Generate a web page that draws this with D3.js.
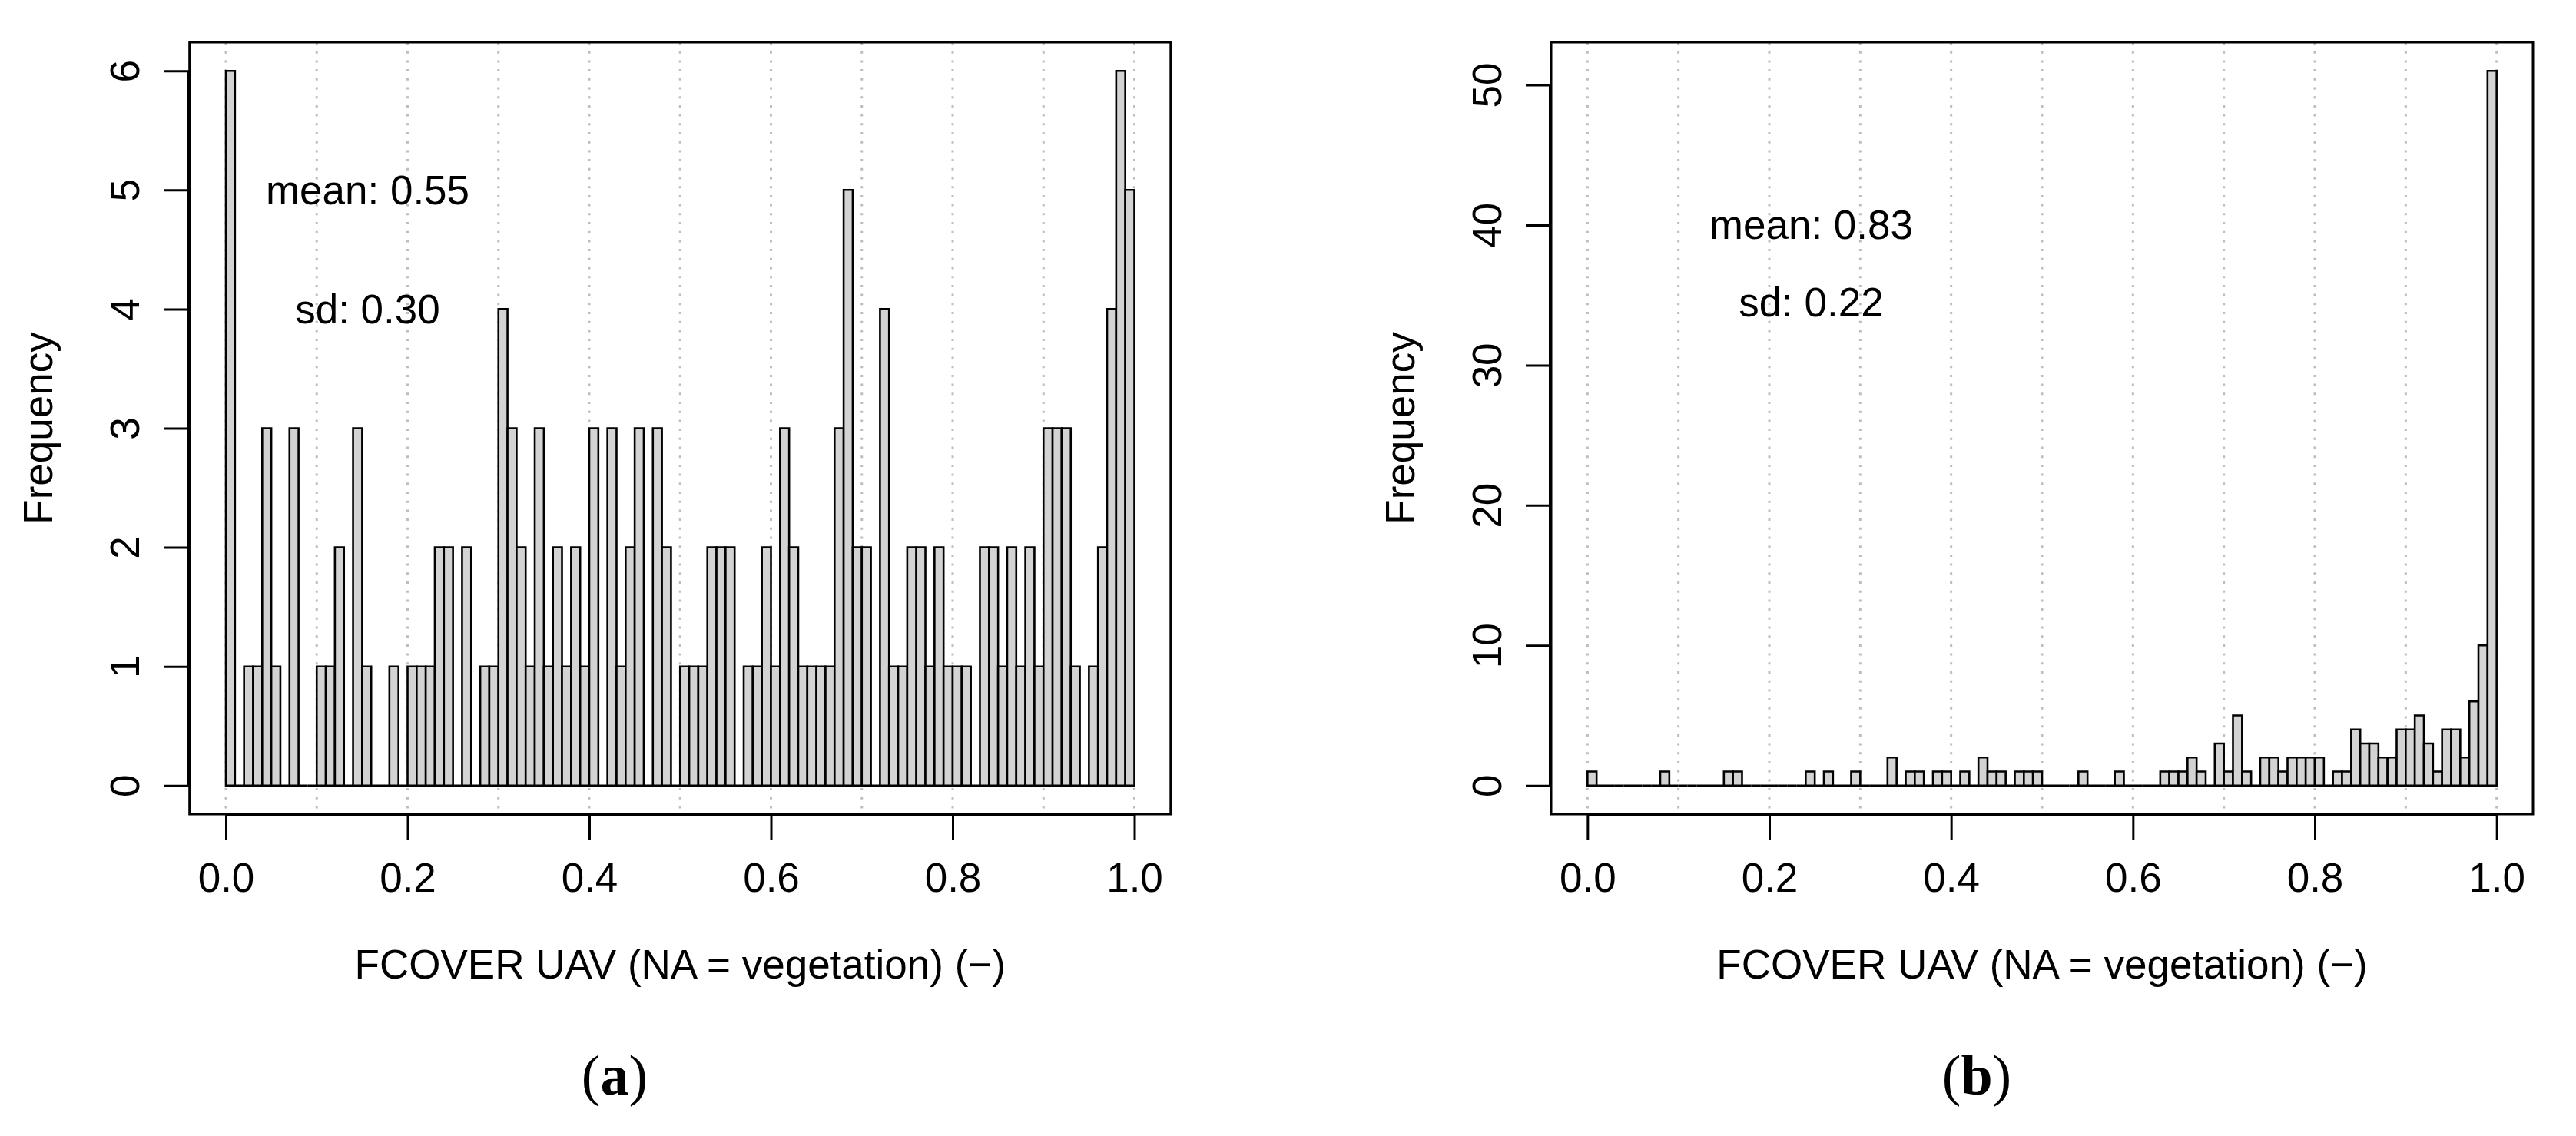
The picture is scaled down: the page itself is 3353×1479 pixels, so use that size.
<!DOCTYPE html>
<html>
<head>
<meta charset="utf-8">
<script src="https://cdn.jsdelivr.net/npm/d3@7"></script>
<style>
  html, body { margin: 0; padding: 0; background: #fff; }
  svg { display: block; }
</style>
</head>
<body>
<svg id="chart" width="3353" height="1479"></svg>
<script>
// ---------------- data ----------------
const binBreaks = d3.range(0, 101).map(i => i / 100);   // histogram breaks 0.00 … 1.00

const countsA = [6,0,1,1,3,1,0,3,0,0, 1,1,2,0,3,1,0,0,1,0,
                 1,1,1,2,2,0,2,0,1,1, 4,3,2,1,3,1,2,1,2,1,
                 3,0,3,1,2,3,0,3,2,0, 1,1,1,2,2,2,0,1,1,2,
                 1,3,2,1,1,1,1,3,5,2, 2,0,4,1,1,2,2,1,2,1,
                 1,1,0,2,2,1,2,1,2,1, 3,3,3,1,0,1,2,4,6,5];

const countsB = [1,0,0,0,0,0,0,0,1,0, 0,0,0,0,0,1,1,0,0,0,
                 0,0,0,0,1,0,1,0,0,1, 0,0,0,2,0,1,1,0,1,1,
                 0,1,0,2,1,1,0,1,1,1, 0,0,0,0,1,0,0,0,1,0,
                 0,0,0,1,1,1,2,1,0,3, 1,5,1,0,2,2,1,2,2,2,
                 2,0,1,1,4,3,3,2,2,4, 4,5,3,1,4,4,2,6,10,51];

const xTicks = [0, 0.2, 0.4, 0.6, 0.8, 1.0];
const xTickLabels = ["0.0", "0.2", "0.4", "0.6", "0.8", "1.0"];
const gridLines = [0, 0.1, 0.2, 0.3, 0.4, 0.5, 0.6, 0.7, 0.8, 0.9, 1.0];
const yTicksA = [0, 1, 2, 3, 4, 5, 6];
const yTicksB = [0, 10, 20, 30, 40, 50];
const statsA = [{label: "mean: 0.55", x: 0.156, y: 5}, {label: "sd: 0.30", x: 0.156, y: 4}];
const statsB = [{label: "mean: 0.83", x: 0.246, y: 40}, {label: "sd: 0.22", x: 0.246, y: 34.5}];
const xLabel = "FCOVER UAV (NA = vegetation) (\u2212)";
const yLabel = "Frequency";
const captions = ["a", "b"];

// ---------------- layout ----------------
const svg = d3.select("#chart");
svg.append("rect").attr("width", 3353).attr("height", 1479).attr("fill", "#fff");

const FONT = "'Liberation Sans', Arial, sans-serif";
const FS = 53;

const panels = [
  {counts: countsA, yTicks: yTicksA, ymax: 6,  stats: statsA, boxL: 246.7, boxR: 1523.8, cap: captions[0], capX: 800},
  {counts: countsB, yTicks: yTicksB, ymax: 51, stats: statsB, boxL: 2019,  boxR: 3297,   cap: captions[1], capX: 2573}
];
const boxT = 55, boxB = 1060;

panels.forEach(p => {
  const g = svg.append("g");
  const ext = 0.04;
  const x = d3.scaleLinear().domain([-ext, 1 + ext]).range([p.boxL, p.boxR]);
  const y = d3.scaleLinear().domain([-ext * p.ymax, p.ymax * (1 + ext)]).range([boxB, boxT]);

  // grid (dotted vertical)
  g.selectAll("line.grid").data(gridLines).enter().append("line")
    .attr("x1", d => x(d)).attr("x2", d => x(d))
    .attr("y1", boxT).attr("y2", boxB)
    .attr("stroke", "#bdbdbd").attr("stroke-width", 3)
    .attr("stroke-dasharray", "3,8.7");

  // bars
  const bins = p.counts.map((c, i) => ({x0: binBreaks[i], x1: binBreaks[i + 1], c}));
  g.selectAll("path.bar").data(bins).enter().append("path")
    .attr("d", d => `M${x(d.x0)},${y(0)}V${y(d.c)}H${x(d.x1)}V${y(0)}Z`)
    .attr("fill", "#d3d3d3").attr("stroke", "#000").attr("stroke-width", 2.6)
    .attr("stroke-linejoin", "miter");

  // box
  g.append("rect").attr("x", p.boxL).attr("y", boxT)
    .attr("width", p.boxR - p.boxL).attr("height", boxB - boxT)
    .attr("fill", "none").attr("stroke", "#000").attr("stroke-width", 3);

  // x axis
  const xa = g.append("g").attr("transform", `translate(0,${boxB})`)
    .call(d3.axisBottom(x).tickValues(xTicks).tickFormat((d, i) => xTickLabels[i]).tickSize(33).tickPadding(0));
  xa.select(".domain").attr("d", `M${x(0)},1.5H${x(1)}`).attr("stroke", "#000").attr("stroke-width", 3);
  xa.selectAll(".tick line").attr("stroke", "#000").attr("stroke-width", 3);
  xa.selectAll(".tick text").attr("font-family", FONT).attr("font-size", FS).attr("fill", "#000")
    .attr("y", 82).attr("dy", "0.35em");

  // y axis
  const ya = g.append("g").attr("transform", `translate(${p.boxL},0)`)
    .call(d3.axisLeft(y).tickValues(p.yTicks).tickFormat(d3.format("d")).tickSize(33).tickPadding(0));
  ya.select(".domain").attr("d", `M-1.5,${y(0)}V${y(p.yTicks[p.yTicks.length - 1])}`).attr("stroke", "#000").attr("stroke-width", 3);
  ya.selectAll(".tick line").attr("stroke", "#000").attr("stroke-width", 3);
  ya.selectAll(".tick text").attr("font-family", FONT).attr("font-size", FS).attr("fill", "#000")
    .attr("x", null).attr("dy", null)
    .attr("text-anchor", "middle")
    .attr("transform", "translate(-84,0) rotate(-90)")
    .attr("y", 0).attr("dy", "0.35em");

  // axis titles
  g.append("text").attr("x", (p.boxL + p.boxR) / 2).attr("y", 1255).attr("dy", "0.35em")
    .attr("text-anchor", "middle").attr("font-family", FONT).attr("font-size", FS).text(xLabel);
  g.append("text").attr("transform", `translate(${p.boxL - 197},${(boxT + boxB) / 2}) rotate(-90)`)
    .attr("dy", "0.35em").attr("text-anchor", "middle")
    .attr("font-family", FONT).attr("font-size", FS).text(yLabel);

  // stats text
  g.selectAll("text.stat").data(p.stats).enter().append("text")
    .attr("x", d => x(d.x)).attr("y", d => y(d.y)).attr("dy", "0.35em")
    .attr("text-anchor", "middle").attr("font-family", FONT).attr("font-size", FS)
    .text(d => d.label);

  // caption
  const cap = g.append("text").attr("x", p.capX).attr("y", 1401).attr("dy", "0.33em")
    .attr("text-anchor", "middle").attr("font-family", "'Liberation Serif', 'Times New Roman', serif")
    .attr("font-size", 74);
  cap.append("tspan").text("(");
  cap.append("tspan").attr("font-weight", "bold").text(p.cap);
  cap.append("tspan").text(")");
});
</script>
</body>
</html>
